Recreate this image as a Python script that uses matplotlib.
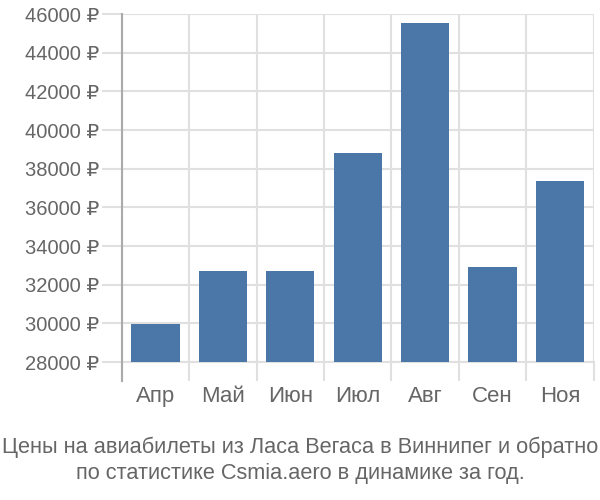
import numpy as np
import matplotlib.pyplot as plt
from matplotlib.ticker import FixedLocator

months = ["Апр", "Май", "Июн", "Июл", "Авг", "Сен", "Ноя"]
prices = [29950, 32700, 32700, 38800, 45550, 32900, 37350]
y_ticks = list(range(28000, 46001, 2000))
caption_lines = ["Цены на авиабилеты из Ласа Вегаса в Виннипег и обратно",
                 "по статистике Csmia.aero в динамике за год."]

plt.rcParams['font.family'] = ['Liberation Sans', 'DejaVu Sans']

grid_c = "#e0e0e0"
text_c = "#666666"

fig = plt.figure(figsize=(6, 5), dpi=100)
ax = fig.add_axes([0.2028, 0.276, 0.7867, 0.696])

x = np.arange(len(months))
ax.bar(x, prices, width=0.716, color="#4a76a8", zorder=3)

ax.set_xlim(-0.5, len(months) - 0.5)
ax.set_ylim(28000, 46000)

# y axis: long light ticks that continue the grid lines
ax.set_yticks(y_ticks)
ax.set_yticklabels([f"{v} ₽" for v in y_ticks])
ax.tick_params(axis='y', length=14.4, width=1.5, color=grid_c, pad=1.5,
               labelsize=14.5, labelcolor=text_c)
ax.yaxis.grid(True, color=grid_c, linewidth=1.5, zorder=0)

# x axis: labels at bar centres, long ticks on the slot boundaries
ax.set_xticks(x)
ax.set_xticklabels(months)
ax.tick_params(axis='x', which='major', length=0, pad=17,
               labelsize=16, labelcolor=text_c)
ax.xaxis.set_minor_locator(FixedLocator(np.arange(-0.5, len(months), 1.0)))
ax.tick_params(axis='x', which='minor', length=13.7, width=1.5, color=grid_c)
ax.xaxis.grid(True, which='minor', color=grid_c, linewidth=1.5, zorder=0)

for s in ['top', 'right']:
    ax.spines[s].set_visible(False)
ax.spines['bottom'].set_color(grid_c)
ax.spines['bottom'].set_linewidth(1.5)
ax.spines['left'].set_visible(False)
ax.plot([0, 0], [-0.055, 1], transform=ax.transAxes, color="#aaaaaa",
        linewidth=1.5, clip_on=False, zorder=4)

fig.text(0.5, 1 - 447 / 500, caption_lines[0], ha='center', va='center',
         fontsize=15.7, color=text_c)
fig.text(0.5, 1 - 474 / 500, caption_lines[1], ha='center', va='center',
         fontsize=15.7, color=text_c)

fig.savefig("out.png", dpi=100)
